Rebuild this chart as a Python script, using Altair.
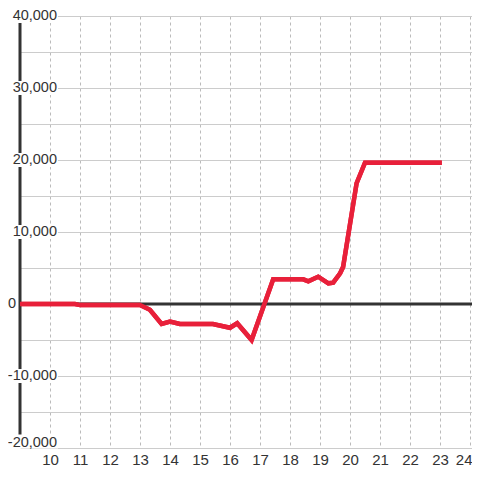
import altair as alt
import pandas as pd

# Profit/loss line (hour of day, balance)
hours = [9.0, 10.83, 11.0, 13.0, 13.33, 13.72, 14.0, 14.33, 15.43, 16.0, 16.24,
         16.72, 17.44, 18.44, 18.61, 18.94, 19.28, 19.44, 19.67, 19.77, 20.22,
         20.5, 23.06]
balance = [0, 0, -150, -150, -800, -2780, -2450, -2780, -2780, -3300, -2680,
           -5000, 3430, 3430, 3150, 3790, 2870, 2960, 4260, 5140, 16770,
           19620, 19620]

x_ticks = list(range(10, 25))
y_grid = list(range(-20000, 40001, 5000))
y_labels_main = [40000, 30000, 20000, 10000, -10000]
y_label_zero = [0]
y_label_bottom = [-20000]
x_min, x_max = 9, 24.067
y_min, y_max = -20000, 40000

RED = "#e8203a"
DARK = "#333333"
FONT = "Liberation Sans"
FS = 14.5

df = pd.DataFrame({"h": hours, "v": balance})
lab_main = pd.DataFrame({"v": y_labels_main, "t": [f"{v:,}" for v in y_labels_main]})
lab_zero = pd.DataFrame({"v": y_label_zero, "t": [f"{v:,}" for v in y_label_zero]})
lab_bottom = pd.DataFrame({"v": y_label_bottom, "t": [f"{v:,}" for v in y_label_bottom]})

xs = alt.Scale(domain=[x_min, x_max], nice=False, zero=False)
ys = alt.Scale(domain=[y_min, y_max], nice=False, zero=False)

xaxis = alt.Axis(values=x_ticks, title=None, grid=True, gridDash=[3, 3],
                 gridColor="#bbbbbb", gridWidth=1, domain=False, ticks=False,
                 labelFontSize=15, labelColor=DARK, labelFont=FONT,
                 labelPadding=4, labelFlush=3, labelFlushOffset=2,
                 labelOverlap=False)
yaxis = alt.Axis(values=y_grid, title=None, grid=True, gridColor="#cccccc",
                 gridWidth=1, domain=False, ticks=False, labels=False)

X = lambda f: alt.X(f, scale=xs, axis=xaxis)
Y = lambda f: alt.Y(f, scale=ys, axis=yaxis)

zero_rule = alt.Chart(pd.DataFrame({"v": [0]})).mark_rule(
    color=DARK, strokeWidth=3).encode(y=Y("v:Q"))

left_rule = alt.Chart(pd.DataFrame({"h": [x_min]})).mark_rule(
    color=DARK, strokeWidth=3).encode(x=X("h:Q"))

box_shape = "M-1,-0.28L1,-0.28L1,0.28L-1,0.28Z"
boxes = alt.Chart(lab_main).mark_point(
    shape=box_shape, size=2500, filled=True, color="white", opacity=1,
    strokeWidth=0).encode(x=alt.value(13), y=Y("v:Q"))
box_bottom = alt.Chart(lab_bottom).mark_point(
    shape=box_shape, size=2500, filled=True, color="white", opacity=1,
    strokeWidth=0, yOffset=-6.5).encode(x=alt.value(13), y=Y("v:Q"))

labels = alt.Chart(lab_main).mark_text(
    align="right", baseline="middle", font=FONT, fontSize=FS, color=DARK
).encode(x=alt.value(37), y=Y("v:Q"), text="t:N")
label_zero = alt.Chart(lab_zero).mark_text(
    align="right", baseline="middle", font=FONT, fontSize=FS, color=DARK
).encode(x=alt.value(-4), y=Y("v:Q"), text="t:N")
label_bottom = alt.Chart(lab_bottom).mark_text(
    align="right", baseline="alphabetic", font=FONT, fontSize=FS, color=DARK,
    dy=-1).encode(x=alt.value(37), y=Y("v:Q"), text="t:N")

line = alt.Chart(df).mark_line(color=RED, strokeWidth=4.5).encode(
    x=X("h:Q"), y=Y("v:Q"))

chart = alt.layer(
    line, zero_rule, left_rule, boxes, box_bottom, labels, label_zero,
    label_bottom, line
).properties(
    width=452, height=432, autosize="none",
    padding={"left": 12, "top": 8, "right": 0, "bottom": 24},
    background="white"
).configure_view(stroke=None)

chart.save("out.html", embed_options={"renderer": "svg", "actions": False})
